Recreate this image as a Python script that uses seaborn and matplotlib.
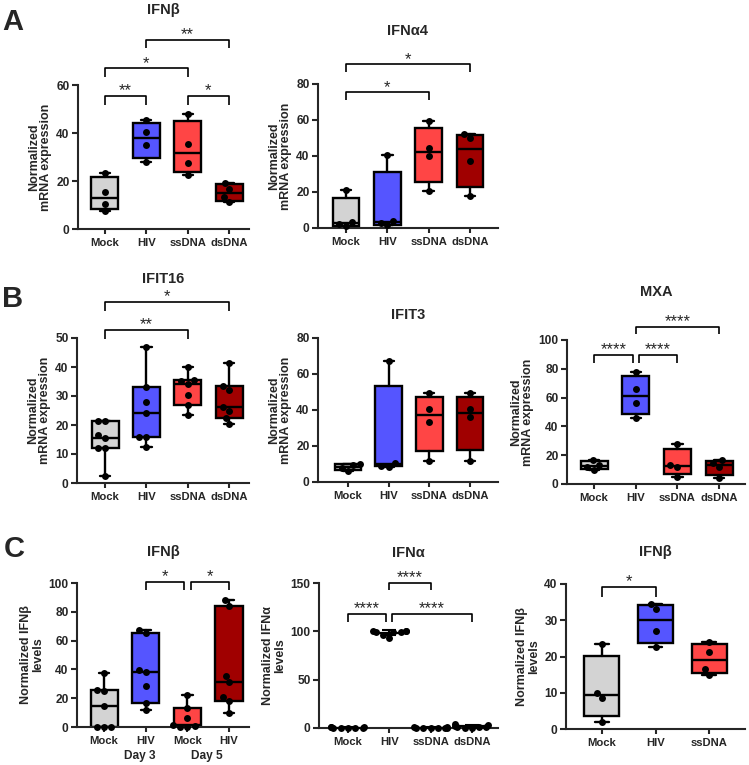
import warnings
import numpy as np
import pandas as pd
import matplotlib
matplotlib.use("Agg")
import matplotlib.pyplot as plt
import matplotlib.transforms as mtransforms
import seaborn as sns

warnings.filterwarnings("ignore")

# ---- categories / colours
groups4 = ["Mock", "HIV", "ssDNA", "dsDNA"]
groups3 = ["Mock", "HIV", "ssDNA"]
groups_day = ["Mock", "HIV", "Mock", "HIV"]
days = ["Day 3", "Day 5"]

GRAY, BLUE, RED, DARKRED = "#d3d3d3", "#5555ff", "#ff4545", "#a00000"
colors4 = [GRAY, BLUE, RED, DARKRED]

# ---- A: mRNA expression
ifnb_mrna = [[23.5, 15.5, 10.5, 7.5], [45.5, 40.5, 35, 28],
             [48, 35.5, 27.5, 22.5], [19.3, 16.8, 13.3, 11.3]]
ifna4_mrna = [[21, 3.5, 2, 1], [40.5, 4, 3, 1.5],
              [59.5, 44.5, 40, 20.5], [52.5, 50, 37.5, 18]]

# ---- B: mRNA expression
ifit16_mrna = [[21.5, 21.5, 16.5, 15.5, 12, 12, 2.5],
               [47, 33, 28, 24, 16, 16, 12.5],
               [40, 35.5, 35.3, 34.3, 30.5, 27, 23.5],
               [41.3, 33.5, 32, 26.3, 24.8, 22.4, 20.3]]
ifit3_mrna = [[10, 9.2, 8, 6.3], [67.5, 10.5, 9, 8.5],
              [49.5, 40.5, 33.5, 11.5], [49.5, 40.5, 36, 11.5]]
mxa_mrna = [[16.5, 13.5, 12, 10], [78, 66, 56, 46],
            [28, 13, 12, 5], [16.5, 14.5, 12, 4.2]]

# ---- C: protein levels
ifnb_days = [[37.5, 25.5, 25, 14.5, 0, 0, 0],
             [67.5, 65.5, 39.5, 38, 28.5, 16.5, 11.5],
             [22.5, 13.5, 6, 1.5, 0.5, 0.3, 0],
             [88, 84, 35.5, 31, 20.5, 18, 10]]
ifna_levels = [[0.9, 0.6, 0.4, 0.3, 0.2, 0.5, 0.7, 0.1],
               [100, 100, 100, 99.8, 99.5, 99, 96.5, 93],
               [0.8, 0.6, 0.5, 0.4, 0.3, 0.2, 0.5, 0.1],
               [4, 3, 2.5, 1.5, 1, 0.6, 0.3, 0.2]]
ifnb_levels = [[23.5, 10, 8.5, 2], [34.5, 33, 27, 22.5], [24, 21.3, 16.5, 15]]

# ---- significance brackets: (group1, group2, bar height, tip height, label)
ifnb_mrna_sig = [(0, 1, 55.4, 51.7, "**"), (2, 3, 55.4, 51.7, "*"),
                 (0, 2, 67, 63.3, "*"), (1, 3, 78.8, 75.4, "**")]
ifna4_mrna_sig = [(0, 2, 75.5, 71, "*"), (0, 3, 91, 86.7, "*")]
ifit16_mrna_sig = [(0, 2, 52.8, 49.7, "**"), (0, 3, 62.4, 59.3, "*")]
mxa_mrna_sig = [(0, 0.93, 89.6, 84, "****"), (1.07, 2, 89.6, 84, "****"),
                (1, 3, 109, 104, "****")]
ifnb_days_sig = [(1, 1.92, 100.7, 95, "*"), (2.08, 3, 100.7, 95, "*")]
ifna_levels_sig = [(1, 2, 150.5, 143, "****"), (0, 0.93, 118, 110, "****"),
                   (1.07, 3, 118, 110, "****")]
ifnb_levels_sig = [(0, 1, 39.2, 36.4, "*")]

# ---- style
sns.set_theme(style="ticks")
plt.rcParams["font.family"] = ["Liberation Sans", "DejaVu Sans"]
plt.rcParams["font.weight"] = "bold"
plt.rcParams["axes.labelweight"] = "bold"
plt.rcParams["axes.titleweight"] = "bold"

W, H = 749, 765
fig = plt.figure(figsize=(W / 100, H / 100), dpi=100)


def make_ax(left, right, top, bottom):
    # pixel box -> figure fraction
    return fig.add_axes([left / W, 1 - bottom / H, (right - left) / W, (bottom - top) / H])


def style_ax(ax, labels, xlim, ymax, yticks, ylabel, title, title_y):
    ax.set_xticks(range(len(labels)))
    ax.set_xticklabels(labels)
    ax.set_xlim(*xlim)
    ax.set_ylim(0, ymax)
    ax.set_yticks(yticks)
    ax.set_xlabel("")
    ax.set_ylabel(ylabel, fontsize=9, linespacing=1.0, labelpad=3)
    sns.despine(ax=ax)
    for s in ["left", "bottom"]:
        ax.spines[s].set_linewidth(1.5)
    ax.tick_params(axis="y", length=4, width=1.5, labelsize=8.6, pad=2)
    ax.tick_params(axis="x", length=3.5, width=1.5, labelsize=8.1, pad=3)
    ax.text(0.5, title_y, title, transform=ax.transAxes, ha="center", va="center",
            fontsize=10.5, fontweight="bold")
    for c in ax.collections:
        c.set_clip_on(False)


def add_sig(ax, sigs):
    for x1, x2, y, tip, txt in sigs:
        ax.plot([x1, x1, x2, x2], [tip, y, y, tip], color="black", lw=1.2,
                clip_on=False, solid_capstyle="butt")
        ax.annotate(txt, xy=((x1 + x2) / 2, y), xytext=(0, 0.3),
                    textcoords="offset points", ha="center", va="baseline",
                    fontsize=12, fontweight="normal", annotation_clip=False)


def long_df(values):
    keys = [f"g{i}" for i in range(len(values))]
    df = pd.DataFrame({"group": [keys[i] for i, v in enumerate(values) for _ in v],
                       "value": [x for v in values for x in v]})
    return df, keys


def box_panel(ax, values, colors):
    df, keys = long_df(values)
    sns.swarmplot(data=df, x="group", y="value", order=keys, color="black",
                  size=5, ax=ax, zorder=4)
    stats = []
    for v in values:
        q1, med, q3 = np.percentile(v, [25, 50, 75], method="weibull")
        stats.append(dict(med=med, q1=q1, q3=q3, whislo=min(v), whishi=max(v), fliers=[]))
    lp = dict(color="black", linewidth=1.7)
    bp = ax.bxp(stats, positions=range(len(values)), widths=0.65, patch_artist=True,
                manage_ticks=False, showfliers=False, capwidths=0.25,
                boxprops=dict(edgecolor="black", linewidth=1.7),
                whiskerprops=lp, capprops=lp, medianprops=lp, zorder=2)
    for patch, c in zip(bp["boxes"], colors):
        patch.set_facecolor(c)


mrna_label = "Normalized\nmRNA expression"

# ---- A
ax = make_ax(78, 249, 85, 229)
box_panel(ax, ifnb_mrna, colors4)
add_sig(ax, ifnb_mrna_sig)
style_ax(ax, groups4, (-0.65, 3.48), 60, [0, 20, 40, 60], mrna_label, "IFNβ", 1.52)

ax = make_ax(318, 498, 84, 228)
box_panel(ax, ifna4_mrna, colors4)
add_sig(ax, ifna4_mrna_sig)
style_ax(ax, groups4, (-0.68, 3.68), 80, range(0, 81, 20), mrna_label, "IFNα4", 1.37)

# ---- B
ax = make_ax(77, 249, 338, 483)
box_panel(ax, ifit16_mrna, colors4)
add_sig(ax, ifit16_mrna_sig)
style_ax(ax, groups4, (-0.68, 3.48), 50, range(0, 51, 10), mrna_label, "IFIT16", 1.41)

ax = make_ax(318, 498, 338, 482)
box_panel(ax, ifit3_mrna, colors4)
style_ax(ax, groups4, (-0.74, 3.69), 80, range(0, 81, 20), mrna_label, "IFIT3", 1.16)

ax = make_ax(567, 745, 340, 484)
box_panel(ax, mxa_mrna, colors4)
add_sig(ax, mxa_mrna_sig)
style_ax(ax, groups4, (-0.65, 3.62), 100, range(0, 101, 20), mrna_label, "MXA", 1.33)

# ---- C
ax = make_ax(77, 249, 583, 727)
box_panel(ax, ifnb_days, colors4)
add_sig(ax, ifnb_days_sig)
style_ax(ax, groups_day, (-0.65, 3.48), 100, range(0, 101, 20),
         "Normalized IFNβ\nlevels", "IFNβ", 1.215)
trans = mtransforms.blended_transform_factory(ax.transData, ax.transAxes)
for xd, d in zip([0.86, 2.47], days):
    ax.text(xd, -0.2, d, transform=trans, ha="center", va="center", fontsize=8.6)

ax = make_ax(319, 498, 583, 728)
df, keys = long_df(ifna_levels)
sns.swarmplot(data=df, x="group", y="value", order=keys, color="black",
              size=5, ax=ax, zorder=4)
for i, v in enumerate(ifna_levels):
    m, sd = np.mean(v), np.std(v, ddof=1)
    ax.hlines(m, i - 0.3, i + 0.3, color="black", lw=1.6, zorder=3)
    ax.errorbar(i, m, yerr=sd, fmt="none", ecolor="black", elinewidth=1.5,
                capsize=5, capthick=1.5, zorder=3)
add_sig(ax, ifna_levels_sig)
style_ax(ax, groups4, (-0.70, 3.63), 150, [0, 50, 100, 150],
         "Normalized IFNα\nlevels", "IFNα", 1.21)

ax = make_ax(566, 745, 584, 729)
box_panel(ax, ifnb_levels, [GRAY, BLUE, RED])
add_sig(ax, ifnb_levels_sig)
style_ax(ax, groups3, (-0.67, 2.67), 40, range(0, 41, 10),
         "Normalized IFNβ\nlevels", "IFNβ", 1.22)

# ---- panel letters
for letter, (px, py) in zip("ABC", [(13, 22), (13, 299), (14, 549)]):
    fig.text(px / W, 1 - py / H, letter, ha="center", va="center",
             fontsize=21, fontweight="bold")

fig.savefig("out.png", dpi=100)
